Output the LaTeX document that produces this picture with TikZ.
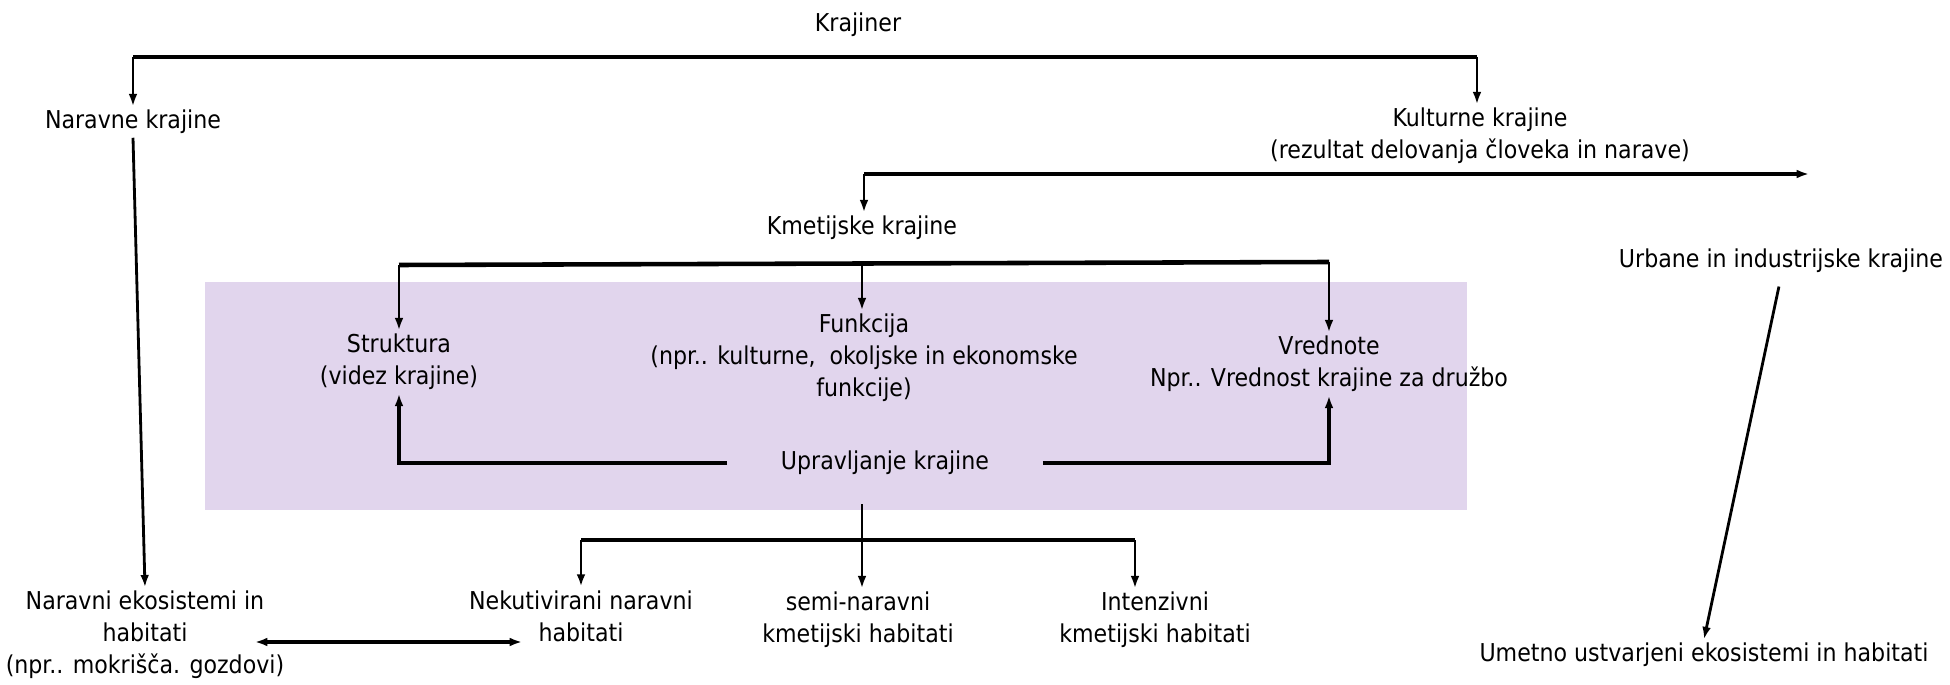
\documentclass[tikz,border=0pt]{standalone}
\usepackage{fontspec}
\setmainfont{DejaVu Sans Condensed}
\usetikzlibrary{arrows.meta}
\definecolor{lav}{RGB}{225,213,237}
\begin{document}
\begin{tikzpicture}[x=0.02cm,y=-0.02cm,
  every node/.style={font=\fontsize{14}{18.2}\selectfont, align=center, inner sep=2pt},
  thk/.style={line width=2.6pt},
  arr/.style={line width=1.6pt, -{Latex[length=7pt,width=5pt]}},
  darr/.style={line width=2.2pt, {Latex[length=7pt,width=5pt]}-{Latex[length=7pt,width=5pt]}}]
\useasboundingbox (0,0) rectangle (1950,685);
\fill[lav] (205,282) rectangle (1467,510);

\node (kr) at (858,25) {Krajiner};
\node (nk) at (133,122) {Naravne krajine};
\node (kk) at (1480,136) {Kulturne krajine\\(rezultat delovanja človeka in narave)};
\node (kmk) at (862,228) {Kmetijske krajine};
\node (uik) at (1781,261) {Urbane in industrijske krajine};
\node (str) at (399,362) {Struktura\\(videz krajine)};
\node (fun) at (864,358) {Funkcija\\(npr.. kulturne,\ \ okoljske in ekonomske\\funkcije)};
\node (vre) at (1329,364) {Vrednote\\Npr.. Vrednost krajine za družbo};
\node (upr) at (885,463) {Upravljanje krajine};
\node (nek) at (145,635) {Naravni ekosistemi in\\habitati\\(npr.. mokrišča. gozdovi)};
\node (neku) at (581,616) {Nekutivirani naravni\\habitati};
\node (semi) at (858,620) {semi-naravni\\kmetijski habitati};
\node (int) at (1155,620) {Intenzivni\\kmetijski habitati};
\node (umet) at (1704,655) {Umetno ustvarjeni ekosistemi in habitati};

% top split
\coordinate (tl) at (133,57);
\coordinate (tr) at (1477,57);
\draw[thk] (tl) -- (tr);
\draw[arr] (tl) -- (tl |- nk.north);
\draw[arr] (tr) -- (tr |- kk.north);

% cultural split
\coordinate (kl) at (864,174);
\coordinate (kre) at (1809,174);
\draw[thk,-{Latex[length=7pt,width=5pt]}] (kl) -- (kre);
\draw[arr] (kl) -- (kl |- kmk.north);

% agricultural split
\coordinate (b1) at (399,265);
\coordinate (b2) at (862,263);
\coordinate (b3) at (1329,262);
\draw[thk] (b1) -- (b3);
\draw[arr] (b1) -- (str.north);
\draw[arr] (b2) -- (b2 |- fun.north);
\draw[arr] (b3) -- (vre.north);

% management
\draw[thk,-{Latex[length=7pt,width=5pt]},shorten <=1cm] (upr.west) -| (str.south);
\draw[thk,-{Latex[length=7pt,width=5pt]},shorten <=1cm] (upr.east) -| (vre.south);

% habitats split
\coordinate (d0) at (862,504);
\coordinate (h1) at (581,540);
\coordinate (h2) at (1135,540);
\draw[arr] (d0) -- (d0 |- semi.north);
\draw[thk] (h1) -- (h2);
\draw[arr] (h1) -- (neku.north);
\draw[arr] (h2) -- (h2 |- int.north);

% natural
\draw[arr] (nk.south) -- (nek.north);
% urban
\draw[arr,shorten <=0.2cm] (uik.south) -- (umet.north);
% double arrow
\coordinate (da) at (255,642);
\coordinate (db) at (522,642);
\draw[darr] (da) -- (db);
\end{tikzpicture}
\end{document}
